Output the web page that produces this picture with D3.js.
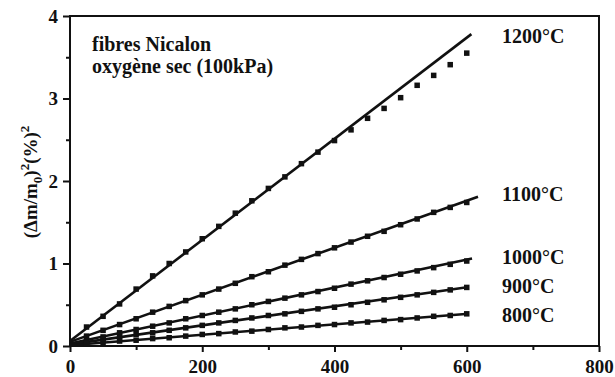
<!DOCTYPE html>
<html><head><meta charset="utf-8">
<script src="https://cdn.jsdelivr.net/npm/d3@7"></script>
<style>body{margin:0;background:#fff}svg{display:block}</style>
</head><body><svg id="c" width="615" height="377"></svg>
<script>
const times = [25,50,75,100,125,150,175,200,225,250,275,300,325,350,375,400,425,450,475,500,525,550,575,600];
const series = ["1200°C","1100°C","1000°C","900°C","800°C"];
const s1200 = [0.23,0.36,0.51,0.69,0.85,1.00,1.14,1.30,1.45,1.61,1.76,1.91,2.05,2.21,2.35,2.49,2.62,2.76,2.88,3.01,3.16,3.28,3.41,3.55];
const s1100 = [0.12,0.19,0.26,0.33,0.41,0.48,0.55,0.62,0.69,0.76,0.84,0.90,0.98,1.05,1.12,1.19,1.26,1.33,1.39,1.47,1.54,1.62,1.68,1.74];
const s1000 = [0.07,0.11,0.16,0.20,0.24,0.28,0.33,0.37,0.41,0.45,0.50,0.54,0.58,0.62,0.66,0.70,0.75,0.79,0.83,0.87,0.91,0.95,0.99,1.03];
const s900  = [0.05,0.08,0.11,0.14,0.16,0.19,0.22,0.25,0.28,0.31,0.34,0.37,0.39,0.42,0.45,0.47,0.50,0.53,0.56,0.59,0.62,0.65,0.68,0.71];
const s800  = [0.03,0.04,0.06,0.07,0.09,0.10,0.12,0.14,0.15,0.17,0.18,0.20,0.22,0.23,0.25,0.26,0.28,0.29,0.31,0.32,0.34,0.36,0.37,0.39];
const fitStartY = [0.06,0.05,0.03,0.02,0.01];
const fitEndX = [607,617,608,603,603];
const fitEndY = [3.78,1.81,1.06,0.715,0.39];
const xTicks = [0,200,400,600,800], xMinor = [100,300,500,700];
const yTicks = [0,1,2,3,4], yMinor = [0.5,1.5,2.5,3.5];
const note = ["fibres Nicalon","oxygène sec (100kPa)"];
const values = [s1200,s1100,s1000,s900,s800];

const FONT = "'Liberation Serif','Times New Roman',serif";
const svg = d3.select("#c");
const x = d3.scaleLinear().domain([0,800]).range([70,599]);
const y = d3.scaleLinear().domain([0,4]).range([346,16]);

function styleAxis(g){
  g.attr("font-family",FONT).attr("font-size",19).attr("font-weight","bold");
  g.select(".domain").remove();
  g.selectAll("line").attr("stroke","#111").attr("stroke-width",2);
  g.selectAll("text").attr("fill","#111");
}
svg.append("g").attr("transform","translate(0,346)").call(d3.axisBottom(x).tickValues(xTicks).tickSize(6).tickPadding(8).tickFormat(d3.format("d"))).call(styleAxis);
svg.append("g").attr("transform","translate(0,346)").call(d3.axisBottom(x).tickValues(xMinor).tickSize(4).tickFormat("")).call(styleAxis);
svg.append("g").attr("transform","translate(70,0)").call(d3.axisLeft(y).tickValues(yTicks).tickSize(7).tickPadding(5).tickFormat(d3.format("d"))).call(styleAxis);
svg.append("g").attr("transform","translate(70,0)").call(d3.axisLeft(y).tickValues(yMinor).tickSize(4).tickFormat("")).call(styleAxis);

svg.append("rect").attr("x",x(0)).attr("y",y(4)).attr("width",x(800)-x(0)).attr("height",y(0)-y(4))
  .attr("fill","none").attr("stroke","#111").attr("stroke-width",2);

series.forEach((name,i)=>{
  svg.append("line").attr("x1",x(0)).attr("y1",y(fitStartY[i])).attr("x2",x(fitEndX[i])).attr("y2",y(fitEndY[i]))
    .attr("stroke","#111").attr("stroke-width",2.6);
  svg.append("g").selectAll("rect").data(times).join("rect")
    .attr("x",(d)=>x(d)-2.75).attr("y",(d,j)=>y(values[i][j])-2.75).attr("width",5.5).attr("height",5.5).attr("fill","#111");
});

const txt = svg.append("g").attr("font-family",FONT).attr("font-weight","bold").attr("fill","#111");
const labBase = [43,201,264,293,322];
series.forEach((name,i)=>{ txt.append("text").attr("x",502).attr("y",labBase[i]).attr("font-size",20).text(name); });
txt.append("text").attr("x",92).attr("y",51).attr("font-size",20).text(note[0]);
txt.append("text").attr("x",92).attr("y",73).attr("font-size",20).text(note[1]);

const yl = txt.append("text").attr("transform","translate(37,182) rotate(-90)").attr("text-anchor","middle").attr("font-size",19);
yl.append("tspan").text("(Δm/m");
yl.append("tspan").attr("dy",5).attr("font-size",13).text("0");
yl.append("tspan").attr("dy",-5).text(")");
yl.append("tspan").attr("dy",-8).attr("font-size",13).text("2");
yl.append("tspan").attr("dy",8).text("(%)");
yl.append("tspan").attr("dy",-8).attr("font-size",13).text("2");
</script></body></html>
